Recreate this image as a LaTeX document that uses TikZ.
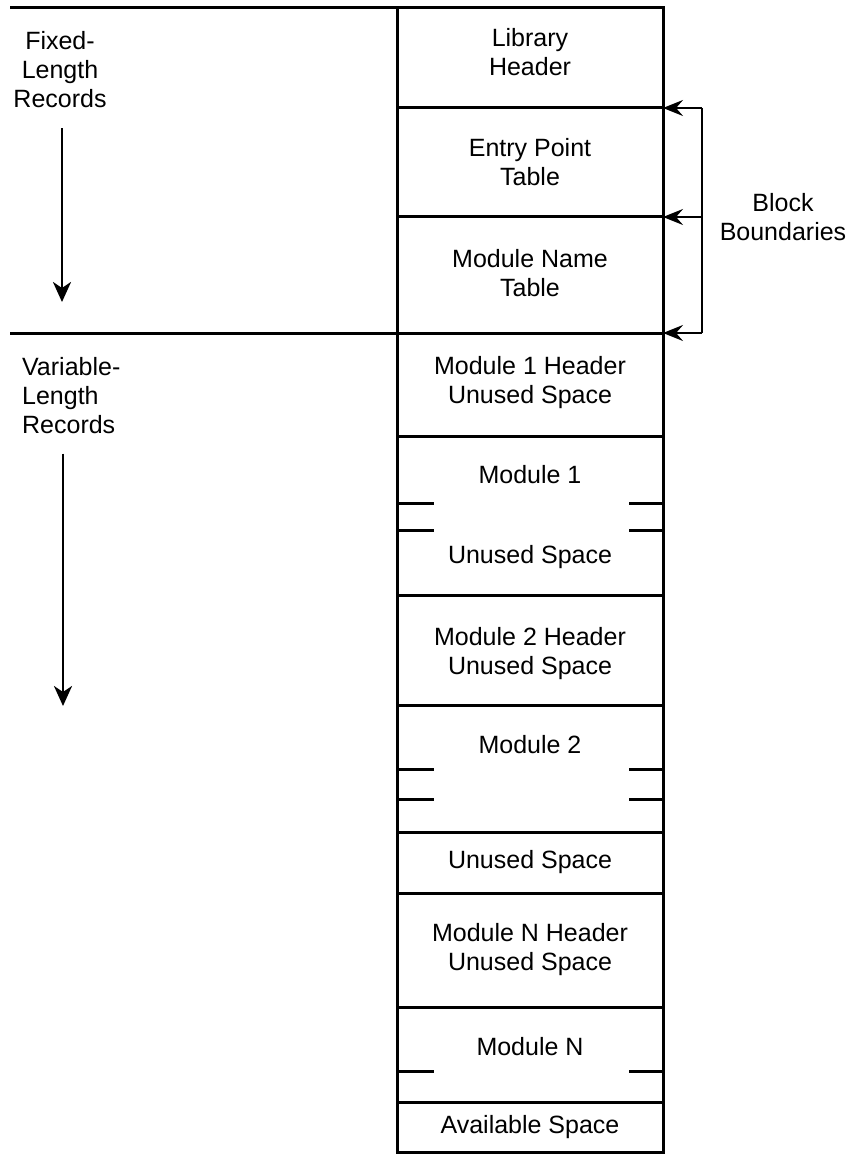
\documentclass[tikz,border=0pt]{standalone}
\usepackage{fontspec}
\setmainfont{Liberation Sans}
\usetikzlibrary{positioning,arrows.meta}

\begin{document}
\begin{tikzpicture}[x=0.5pt,y=-0.5pt,line width=1.5pt,font=\fontsize{12.5}{14.5}\selectfont]
  \useasboundingbox (0,0) rectangle (850,1155);
  % the record column
  \draw (10,8) -- (663,8) -- (663,1152) -- (397,1152) -- (397,8);
  \draw (10,333) -- (397,333);
  \foreach \y in {108,217,333,436,595,705,832,893,1007,1102}{ \draw (397,\y) -- (663,\y); }
  % broken module ends
  \foreach \y in {503,530,769,799,1071}{ \draw (397,\y) -- ++(37,0); \draw (663,\y) -- ++(-34,0); }
  \node[align=center] (libhdr) at (530,52) {Library\\Header};
  \node[align=center] (entry) at (530,162) {Entry Point\\Table};
  \node[align=center] (names) at (530,273) {Module Name\\Table};
  \node[align=center] (hdr1) at (530,383) {Module 1 Header\\Unused Space};
  \node (mod1) at (530,475) {Module 1};
  \node (free1) at (530,557) {Unused Space};
  \node[align=center] (hdr2) at (530,654) {Module 2 Header\\Unused Space};
  \node (mod2) at (530,745) {Module 2};
  \node (free2) at (530,862) {Unused Space};
  \node[align=center] (hdrn) at (530,950) {Module N Header\\Unused Space};
  \node (modn) at (530,1047) {Module N};
  \node (avail) at (530,1127) {Available Space};
  % record kinds
  \node[align=center] (fixed) at (60,70) {Fixed-\\Length\\Records};
  \node[align=left,anchor=north west] (var) at (14,349) {Variable-\\Length\\Records};
  \coordinate (fixedend) at (62,302);
  \coordinate (varend) at (63,706);
  \draw[line width=1.4pt,-{Stealth[length=10pt,width=9pt,inset=3pt]}] (fixed.south -| fixedend) ++(0,12) -- (fixedend);
  \draw[line width=1.4pt,-{Stealth[length=10pt,width=9pt,inset=3pt]}] (var.south -| varend) ++(0,12) -- (varend);
  % block boundaries
  \coordinate (bb) at (702,0);
  \coordinate (b1) at (663,108);
  \coordinate (b2) at (663,217);
  \coordinate (b3) at (663,333);
  \draw[line width=1.2pt] (b1 -| bb) -- (b3 -| bb);
  \foreach \i in {1,2,3}{ \draw[line width=1.2pt,-{Stealth[length=10pt,width=8pt,inset=3.5pt]}] (b\i -| bb) -- (b\i); }
  \node[align=center] (blocks) at (783,217) {Block\\Boundaries};
\end{tikzpicture}
\end{document}
